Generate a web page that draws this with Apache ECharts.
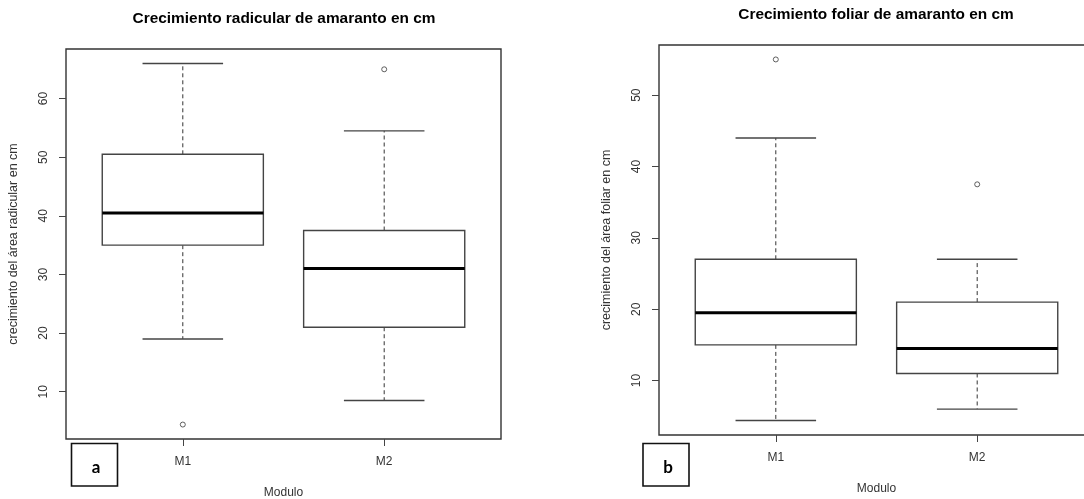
<!DOCTYPE html>
<html>
<head>
<meta charset="utf-8">
<script src="https://cdn.jsdelivr.net/npm/echarts@6/dist/echarts.min.js"></script>
<style>
html,body{margin:0;padding:0;background:#fff;}
#chart{width:1084px;height:499px;}
</style>
</head>
<body>
<div id="chart"></div>
<script>
// ---- data ----
const categories = ['M1', 'M2'];
// [min whisker, Q1, median, Q3, max whisker]
const radicularStats = [[19, 35, 40.5, 50.5, 66], [8.5, 21, 31, 37.5, 54.5]];
const radicularOutlierCat = [1, 2];
const radicularOutlierVal = [4.4, 65];
const foliarStats = [[4.4, 15, 19.5, 27, 44], [6, 11, 14.5, 21, 27]];
const foliarOutlierCat = [1, 2];
const foliarOutlierVal = [55, 37.5];
const radicularTicks = [10, 20, 30, 40, 50, 60];
const foliarTicks = [10, 20, 30, 40, 50];
const titleA = 'Crecimiento radicular de amaranto en cm';
const titleB = 'Crecimiento foliar de amaranto en cm';
const yNameA = 'crecimiento del área radicular en cm';
const yNameB = 'crecimiento del área foliar en cm';
const xName = 'Modulo';

// ---- helpers ----
const FONT = 'Liberation Sans, Arial, sans-serif';
function yRange(stats, outs) {
  const all = stats.flat().concat(outs);
  const lo = Math.min.apply(null, all), hi = Math.max.apply(null, all);
  const pad = 0.04 * (hi - lo);
  return [lo - pad, hi + pad];
}
const n = categories.length;
const xMin = 0.5 - 0.04 * n, xMax = n + 0.5 + 0.04 * n;

function boxRender(params, api) {
  const x = api.value(0);
  const vals = [api.value(1), api.value(2), api.value(3), api.value(4), api.value(5)];
  const p = vals.map(v => api.coord([x, v]));
  const cx = p[0][0];
  const half = api.size([0.8, 0])[0] / 2;
  const cap = half / 2;
  const line = '#444';
  const dash = [4, 3];
  return {
    type: 'group',
    children: [
      { type: 'line', shape: { x1: cx, y1: p[3][1], x2: cx, y2: p[4][1] }, style: { stroke: '#333', lineWidth: 1, lineDash: dash } },
      { type: 'line', shape: { x1: cx, y1: p[1][1], x2: cx, y2: p[0][1] }, style: { stroke: '#333', lineWidth: 1, lineDash: dash } },
      { type: 'line', shape: { x1: cx - cap, y1: p[4][1], x2: cx + cap, y2: p[4][1] }, style: { stroke: line, lineWidth: 1.4 } },
      { type: 'line', shape: { x1: cx - cap, y1: p[0][1], x2: cx + cap, y2: p[0][1] }, style: { stroke: line, lineWidth: 1.4 } },
      { type: 'rect', shape: { x: cx - half, y: p[3][1], width: 2 * half, height: p[1][1] - p[3][1] }, style: { fill: '#fff', stroke: line, lineWidth: 1.4 } },
      { type: 'line', shape: { x1: cx - half, y1: p[2][1], x2: cx + half, y2: p[2][1] }, style: { stroke: '#000', lineWidth: 3 } }
    ]
  };
}

function makeAxes(gridIndex, ticks, range, yName) {
  const xAxis = {
    type: 'value', gridIndex: gridIndex, min: xMin, max: xMax,
    splitLine: { show: false },
    axisLine: { show: false },
    axisTick: { show: true, length: 7, customValues: categories.map((c, i) => i + 1), lineStyle: { color: '#444' } },
    axisLabel: { show: true, customValues: categories.map((c, i) => i + 1), margin: 17,
      formatter: v => categories[Math.round(v) - 1] || '', color: '#333', fontSize: 12, fontFamily: FONT },
    name: xName, nameLocation: 'middle', nameGap: 48, nameMoveOverlap: false,
    nameTextStyle: { color: '#333', fontSize: 12, fontFamily: FONT }
  };
  const yAxis = {
    type: 'value', gridIndex: gridIndex, min: range[0], max: range[1],
    splitLine: { show: false },
    axisLine: { show: false },
    axisTick: { show: true, length: 7, customValues: ticks, lineStyle: { color: '#444' } },
    axisLabel: { show: true, customValues: ticks, rotate: 90, margin: 16, color: '#333', fontSize: 12, fontFamily: FONT },
    name: yName, nameLocation: 'middle', nameGap: 46, nameRotate: 90, nameMoveOverlap: false,
    nameTextStyle: { color: '#333', fontSize: 12.5, fontFamily: FONT }
  };
  return [xAxis, yAxis];
}

const rA = yRange(radicularStats, radicularOutlierVal);
const rB = yRange(foliarStats, foliarOutlierVal);
const axA = makeAxes(0, radicularTicks, rA, yNameA);
const axB = makeAxes(1, foliarTicks, rB, yNameB);

const chart = echarts.init(document.getElementById('chart'), null, { renderer: 'canvas' });
chart.setOption({
  animation: false,
  backgroundColor: '#fff',
  grid: [
    { left: 66, top: 49, width: 435, height: 390, outerBoundsMode: 'none', containLabel: false,
      show: true, borderColor: '#333', borderWidth: 1.4, backgroundColor: 'transparent' },
    { left: 659, top: 45, width: 435, height: 390, outerBoundsMode: 'none', containLabel: false,
      show: true, borderColor: '#333', borderWidth: 1.4, backgroundColor: 'transparent' }
  ],
  xAxis: [axA[0], axB[0]],
  yAxis: [axA[1], axB[1]],
  series: [
    { type: 'custom', xAxisIndex: 0, yAxisIndex: 0, renderItem: boxRender, silent: true,
      data: radicularStats.map((s, i) => [i + 1].concat(s)) },
    { type: 'custom', xAxisIndex: 1, yAxisIndex: 1, renderItem: boxRender, silent: true,
      data: foliarStats.map((s, i) => [i + 1].concat(s)) },
    { type: 'scatter', xAxisIndex: 0, yAxisIndex: 0, symbol: 'circle', symbolSize: 5, silent: true, z: 5,
      itemStyle: { color: '#fff', borderColor: '#3a3a3a', borderWidth: 1 },
      data: radicularOutlierCat.map((c, i) => [c, radicularOutlierVal[i]]) },
    { type: 'scatter', xAxisIndex: 1, yAxisIndex: 1, symbol: 'circle', symbolSize: 5, silent: true, z: 5,
      itemStyle: { color: '#fff', borderColor: '#3a3a3a', borderWidth: 1 },
      data: foliarOutlierCat.map((c, i) => [c, foliarOutlierVal[i]]) }
  ],
  graphic: [
    { type: 'text', x: 284, y: 19, silent: true,
      style: { text: titleA, align: 'center', verticalAlign: 'middle', textAlign: 'center', textVerticalAlign: 'middle',
        font: 'bold 15.4px Liberation Sans, Arial, sans-serif', fill: '#000' } },
    { type: 'text', x: 876, y: 15, silent: true,
      style: { text: titleB, align: 'center', verticalAlign: 'middle', textAlign: 'center', textVerticalAlign: 'middle',
        font: 'bold 15.4px Liberation Sans, Arial, sans-serif', fill: '#000' } },
    { type: 'rect', silent: true, shape: { x: 71.5, y: 443.5, width: 46, height: 42.5 },
      style: { fill: '#fff', stroke: '#111', lineWidth: 1.6 } },
    { type: 'text', x: 96, y: 467.5, silent: true,
      style: { text: 'a', align: 'center', verticalAlign: 'middle', textAlign: 'center', textVerticalAlign: 'middle',
        font: 'bold 17px Lato, Liberation Sans, sans-serif', fill: '#000' } },
    { type: 'rect', silent: true, shape: { x: 643, y: 443.5, width: 46, height: 42.5 },
      style: { fill: '#fff', stroke: '#111', lineWidth: 1.6 } },
    { type: 'text', x: 668, y: 467.5, silent: true,
      style: { text: 'b', align: 'center', verticalAlign: 'middle', textAlign: 'center', textVerticalAlign: 'middle',
        font: 'bold 17px Lato, Liberation Sans, sans-serif', fill: '#000' } }
  ]
});
</script>
</body>
</html>
